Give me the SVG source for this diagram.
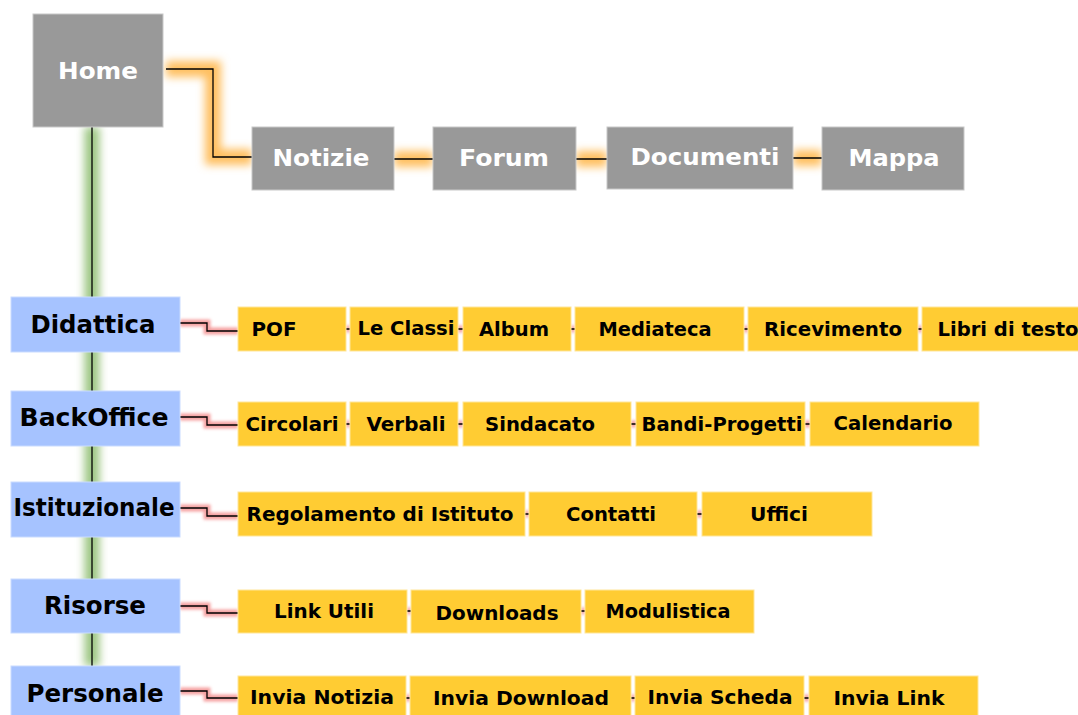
<svg xmlns="http://www.w3.org/2000/svg" width="1078" height="715" viewBox="0 0 1078 715">
<style>
.g{fill:#999999;stroke:#c8c8c8;stroke-width:1}
.b{fill:#a6c3ff;stroke:#c9dbff;stroke-width:1}
.o{fill:#ffcc33;stroke:#ffe699;stroke-width:1}
.tw{font-family:"DejaVu Sans",Verdana,sans-serif;font-weight:bold;font-size:23px;fill:#ffffff;text-anchor:middle}
.tb{font-family:"DejaVu Sans",Verdana,sans-serif;font-weight:bold;font-size:24px;fill:#000000;text-anchor:middle}
.to{font-family:"DejaVu Sans",Verdana,sans-serif;font-weight:bold;font-size:19px;fill:#000000;text-anchor:middle}
.ln{fill:none;stroke:#000000;stroke-width:1.3}
.glo{fill:none;stroke:#ffc060;stroke-width:16;filter:url(#blur)}
.glg{fill:none;stroke:#9cc682;stroke-width:15;filter:url(#blur)}
.glp{fill:none;stroke:#f5a0a0;stroke-width:7;filter:url(#blur2)}
</style>
<defs>
<filter id="blur" filterUnits="userSpaceOnUse" x="0" y="0" width="1078" height="715"><feGaussianBlur stdDeviation="4"/></filter>
<filter id="blur2" filterUnits="userSpaceOnUse" x="0" y="0" width="1078" height="715"><feGaussianBlur stdDeviation="1.8"/></filter>
</defs>
<rect width="1078" height="715" fill="#ffffff"/>
<g id="connectors">
<path class="glg" d="M92 127V666"/>
<path class="glo" d="M166 69H213V157H252"/>
<path class="glo" d="M394 159H433M576 159H607M793 158H822"/>
<path class="glp" d="M180 323H207V331H238M180 417H207V425H238M180 508H207V516H238M180 606H207V613H238M180 691H207V698H238"/>
<path class="glp" d="M346 329H350M458 329H463M571 329H575M744 329H748M918 329H922M346 424H350M458 424H463M631 424H636M805 424H810M525 514H529M697 514H702M407 611H411M581 611H585M406 698H410M631 698H635M804 698H809"/>
<path class="ln" d="M92 127V666"/>
<path class="ln" d="M166 69H213V157H252"/>
<path class="ln" d="M394 159H433M576 159H607M793 158H822"/>
<path class="ln" d="M180 323H207V331H238M180 417H207V425H238M180 508H207V516H238M180 606H207V613H238M180 691H207V698H238"/>
<path class="ln" d="M346 329H350M458 329H463M571 329H575M744 329H748M918 329H922M346 424H350M458 424H463M631 424H636M805 424H810M525 514H529M697 514H702M407 611H411M581 611H585M406 698H410M631 698H635M804 698H809"/>
</g>
<g id="home"><rect class="g" x="33" y="14" width="130" height="113"/><text class="tw" x="98" y="79" textLength="80" lengthAdjust="spacingAndGlyphs">Home</text></g>
<g id="notizie"><rect class="g" x="252" y="127" width="142" height="63"/><text class="tw" x="321" y="166" textLength="97" lengthAdjust="spacingAndGlyphs">Notizie</text></g>
<g id="forum"><rect class="g" x="433" y="127" width="143" height="63"/><text class="tw" x="504" y="166" textLength="90" lengthAdjust="spacingAndGlyphs">Forum</text></g>
<g id="documenti"><rect class="g" x="607" y="127" width="186" height="62"/><text class="tw" x="705" y="165" textLength="149" lengthAdjust="spacingAndGlyphs">Documenti</text></g>
<g id="mappa"><rect class="g" x="822" y="127" width="142" height="63"/><text class="tw" x="894" y="166" textLength="91" lengthAdjust="spacingAndGlyphs">Mappa</text></g>
<g id="didattica"><rect class="b" x="11" y="297" width="169" height="55"/><text class="tb" x="93" y="333" textLength="125" lengthAdjust="spacingAndGlyphs">Didattica</text></g>
<g id="backoffice"><rect class="b" x="11" y="391" width="169" height="55"/><text class="tb" x="94" y="426" textLength="149" lengthAdjust="spacingAndGlyphs">BackOffice</text></g>
<g id="istituzionale"><rect class="b" x="11" y="482" width="169" height="55"/><text class="tb" x="94" y="516" textLength="161" lengthAdjust="spacingAndGlyphs">Istituzionale</text></g>
<g id="risorse"><rect class="b" x="11" y="579" width="169" height="54"/><text class="tb" x="95" y="614" textLength="102" lengthAdjust="spacingAndGlyphs">Risorse</text></g>
<g id="personale"><rect class="b" x="11" y="666" width="169" height="55"/><text class="tb" x="95" y="702" textLength="137" lengthAdjust="spacingAndGlyphs">Personale</text></g>
<g id="pof"><rect class="o" x="238" y="307" width="108" height="44"/><text class="to" x="274" y="336" textLength="45" lengthAdjust="spacingAndGlyphs">POF</text></g>
<g id="leclassi"><rect class="o" x="350" y="307" width="108" height="44"/><text class="to" x="406" y="335" textLength="97" lengthAdjust="spacingAndGlyphs">Le Classi</text></g>
<g id="album"><rect class="o" x="463" y="307" width="108" height="44"/><text class="to" x="514" y="336" textLength="70" lengthAdjust="spacingAndGlyphs">Album</text></g>
<g id="mediateca"><rect class="o" x="575" y="307" width="169" height="44"/><text class="to" x="655" y="336" textLength="113" lengthAdjust="spacingAndGlyphs">Mediateca</text></g>
<g id="ricevimento"><rect class="o" x="748" y="307" width="170" height="44"/><text class="to" x="833" y="336" textLength="138" lengthAdjust="spacingAndGlyphs">Ricevimento</text></g>
<g id="libriditesto"><rect class="o" x="922" y="307" width="160" height="44"/><text class="to" x="1008" y="336" textLength="141" lengthAdjust="spacingAndGlyphs">Libri di testo</text></g>
<g id="circolari"><rect class="o" x="238" y="402" width="108" height="44"/><text class="to" x="292" y="431" textLength="93" lengthAdjust="spacingAndGlyphs">Circolari</text></g>
<g id="verbali"><rect class="o" x="350" y="402" width="108" height="44"/><text class="to" x="406" y="431" textLength="79" lengthAdjust="spacingAndGlyphs">Verbali</text></g>
<g id="sindacato"><rect class="o" x="463" y="402" width="168" height="44"/><text class="to" x="540" y="431" textLength="110" lengthAdjust="spacingAndGlyphs">Sindacato</text></g>
<g id="bandiprogetti"><rect class="o" x="636" y="402" width="169" height="44"/><text class="to" x="722" y="431" textLength="161" lengthAdjust="spacingAndGlyphs">Bandi-Progetti</text></g>
<g id="calendario"><rect class="o" x="810" y="402" width="169" height="44"/><text class="to" x="893" y="430" textLength="119" lengthAdjust="spacingAndGlyphs">Calendario</text></g>
<g id="regolamento"><rect class="o" x="238" y="492" width="287" height="44"/><text class="to" x="380" y="521" textLength="267" lengthAdjust="spacingAndGlyphs">Regolamento di Istituto</text></g>
<g id="contatti"><rect class="o" x="529" y="492" width="168" height="44"/><text class="to" x="611" y="521" textLength="90" lengthAdjust="spacingAndGlyphs">Contatti</text></g>
<g id="uffici"><rect class="o" x="702" y="492" width="170" height="44"/><text class="to" x="779" y="521" textLength="58" lengthAdjust="spacingAndGlyphs">Uffici</text></g>
<g id="linkutili"><rect class="o" x="238" y="590" width="169" height="43"/><text class="to" x="324" y="618" textLength="100" lengthAdjust="spacingAndGlyphs">Link Utili</text></g>
<g id="downloads"><rect class="o" x="411" y="590" width="170" height="43"/><text class="to" x="497" y="620" textLength="123" lengthAdjust="spacingAndGlyphs">Downloads</text></g>
<g id="modulistica"><rect class="o" x="585" y="590" width="169" height="43"/><text class="to" x="668" y="618" textLength="125" lengthAdjust="spacingAndGlyphs">Modulistica</text></g>
<g id="invianotizia"><rect class="o" x="238" y="676" width="168" height="44"/><text class="to" x="322" y="704" textLength="144" lengthAdjust="spacingAndGlyphs">Invia Notizia</text></g>
<g id="inviadownload"><rect class="o" x="410" y="676" width="221" height="44"/><text class="to" x="521" y="705" textLength="176" lengthAdjust="spacingAndGlyphs">Invia Download</text></g>
<g id="inviascheda"><rect class="o" x="635" y="676" width="169" height="44"/><text class="to" x="720" y="704" textLength="145" lengthAdjust="spacingAndGlyphs">Invia Scheda</text></g>
<g id="invialink"><rect class="o" x="809" y="676" width="169" height="44"/><text class="to" x="889" y="705" textLength="111" lengthAdjust="spacingAndGlyphs">Invia Link</text></g>
</svg>
